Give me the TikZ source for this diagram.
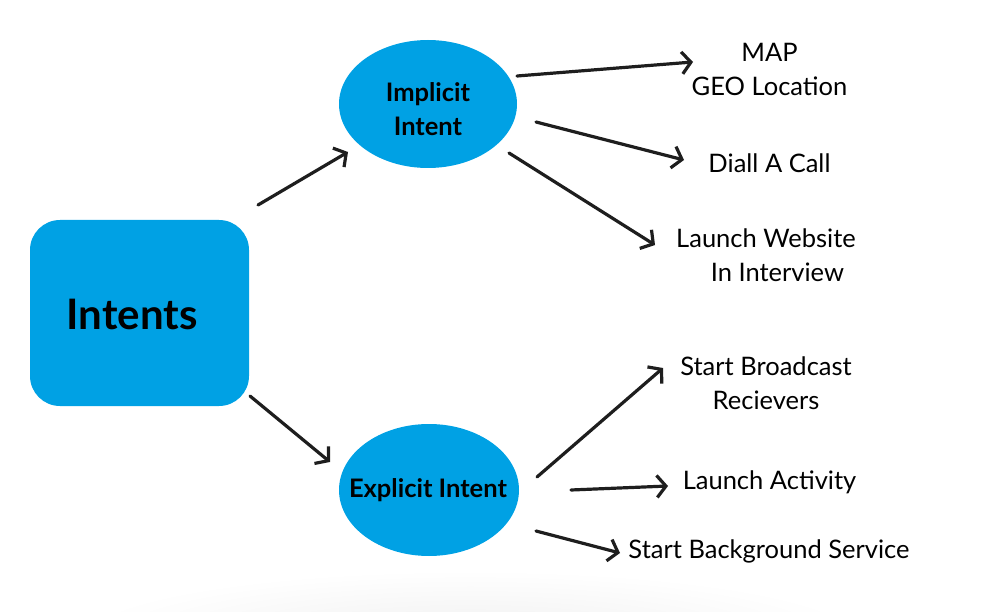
\documentclass[tikz,border=0pt]{standalone}
\usepackage{fontspec}
\setmainfont{Lato}
\usetikzlibrary{shapes.geometric,arrows.meta}
\definecolor{intblue}{RGB}{0,161,228}
\definecolor{arrdark}{RGB}{30,30,30}
\tikzset{
  box/.style={fill=intblue, draw=none, rounded corners=30pt, minimum width=219pt, minimum height=186pt, inner sep=0pt},
  oval/.style={ellipse, fill=intblue, draw=none, inner sep=0pt},
  ovaltext/.style={inner sep=0pt, font=\fontsize{25.5}{34}\selectfont\bfseries, align=center},
  lbl/.style={align=center, inner sep=0pt, font=\fontsize{25.5}{34}\selectfont},
  arr/.style={draw=arrdark, line width=3.2pt, line cap=round, -{Straight Barb[length=9pt,width=22pt,line width=3.2pt]}},
}
\begin{document}
\begin{tikzpicture}[x=1pt,y=-1pt]
\useasboundingbox (0,0) rectangle (991,612);
\begin{scope}
\clip (0,0) rectangle (991,612);
\shade[inner color=black!6, outer color=white] (470,640) ellipse (400 and 70);
\end{scope}
\node[box] (intents) at (139.5,313) {};
\node[inner sep=0pt, font=\fontsize{42}{50}\selectfont\bfseries] (intentstxt) at (132,314) {Intents};
\node[oval, minimum width=178pt, minimum height=128pt] (impl) at (428,104) {};
\node[ovaltext] (impltxt) at (428,109) {Implicit\\Intent};
\node[oval, minimum width=180pt, minimum height=132pt] (expl) at (429,490) {};
\node[ovaltext] (expltxt) at (428,490) {Explicit Intent};
\node[lbl] (map) at (769.5,69) {MAP\\GEO Location};
\node[lbl] (diall) at (769.5,163) {Diall A Call};
\node[lbl] (web) at (766,255) {Launch Website\\\hspace*{0.9em}In Interview};
\node[lbl] (bcast) at (766,383) {Start Broadcast\\Recievers};
\node[lbl] (act) at (769.5,482) {Launch Activity};
\node[lbl] (bg) at (769,551) {Start Background Service};
\draw[arr] ([shift={(118.5,-108)}]intents.center) -- ([shift={(-80,48)}]impl.center);
\draw[arr] ([shift={(110.5,83)}]intents.center) -- ([shift={(-99,-28)}]expl.center);
\draw[arr] ([shift={(89,-28)}]impl.center) -- ([shift={(-76.5,-7)}]map.center);
\draw[arr] ([shift={(108,18)}]impl.center) -- ([shift={(-85.5,-3)}]diall.center);
\draw[arr] ([shift={(81,49)}]impl.center) -- ([shift={(-111,-10)}]web.center);
\draw[arr] ([shift={(108,-13)}]expl.center) -- ([shift={(-103,-15)}]bcast.center);
\draw[arr] ([shift={(142,0)}]expl.center) -- ([shift={(-101.5,4)}]act.center);
\draw[arr] ([shift={(107,41)}]expl.center) -- ([shift={(-149,2)}]bg.center);
\end{tikzpicture}
\end{document}
